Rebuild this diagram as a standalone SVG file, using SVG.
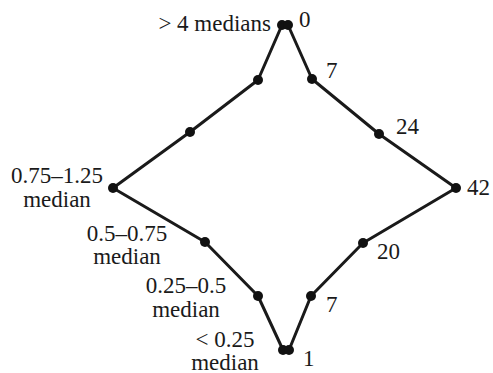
<svg xmlns="http://www.w3.org/2000/svg" width="493" height="373" viewBox="0 0 493 373" font-family="'Liberation Serif', 'DejaVu Serif', serif">
<style>
text{font-family:"Liberation Serif","DejaVu Serif",serif;font-size:23px;fill:#1a1a1a}
.m{text-anchor:middle}
.e{text-anchor:end}
.ln{fill:none;stroke:#1a1a1a;stroke-width:3;stroke-linejoin:round}
.d{fill:#111}
</style>
<rect width="493" height="373" fill="#fff"/>
<g id="connectors">
<polyline class="ln" points="282,25 258,80 190,132 113,188 205,242 258,296 283,350"/>
<polyline class="ln" points="288,25 312,79 379,134 456,188 363,243 311,296 289,350"/>
</g>
<g id="n-top"><circle class="d" cx="282" cy="25" r="5"/><circle class="d" cx="288" cy="25" r="5"/><text class="e" x="271" y="31">&gt; 4 medians</text><text x="299" y="27">0</text></g>
<g id="n-l1"><circle class="d" cx="258" cy="80" r="5"/></g>
<g id="n-l2"><circle class="d" cx="190" cy="132" r="5"/></g>
<g id="n-l3"><circle class="d" cx="113" cy="188" r="5"/><text class="m" x="57" y="183">0.75–1.25</text><text class="m" x="57" y="207">median</text></g>
<g id="n-l4"><circle class="d" cx="205" cy="242" r="5"/><text class="m" x="127" y="241">0.5–0.75</text><text class="m" x="127" y="264">median</text></g>
<g id="n-l5"><circle class="d" cx="258" cy="296" r="5"/><text class="m" x="186" y="293">0.25–0.5</text><text class="m" x="186" y="317">median</text></g>
<g id="n-bot"><circle class="d" cx="283" cy="350" r="5"/><circle class="d" cx="289" cy="350" r="5"/><text class="m" x="225" y="347">&lt; 0.25</text><text class="m" x="225" y="370">median</text><text x="303" y="366">1</text></g>
<g id="n-r1"><circle class="d" cx="312" cy="79" r="5"/><text x="326" y="78">7</text></g>
<g id="n-r2"><circle class="d" cx="379" cy="134" r="5"/><text x="396" y="134">24</text></g>
<g id="n-r3"><circle class="d" cx="456" cy="188" r="5"/><text x="467" y="195">42</text></g>
<g id="n-r4"><circle class="d" cx="363" cy="243" r="5"/><text x="377" y="259">20</text></g>
<g id="n-r5"><circle class="d" cx="311" cy="296" r="5"/><text x="326" y="312">7</text></g>
</svg>
